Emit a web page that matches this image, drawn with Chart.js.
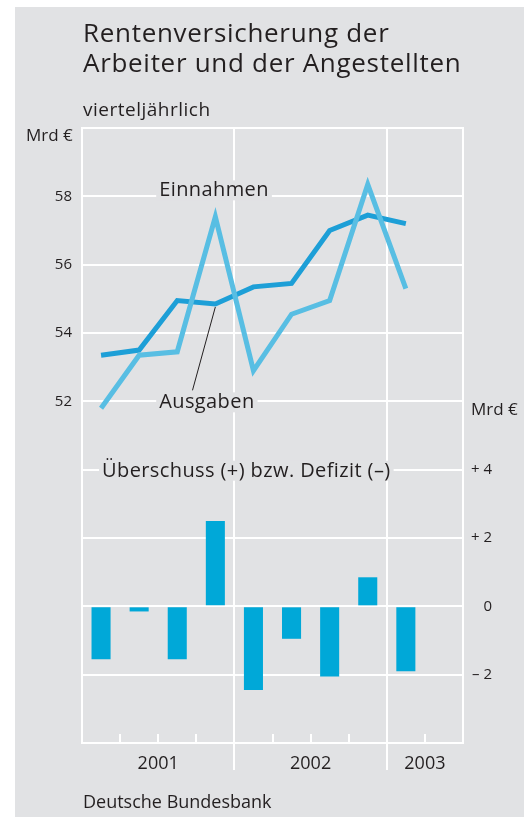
<!DOCTYPE html>
<html lang="de">
<head>
<meta charset="utf-8">
<title>Rentenversicherung der Arbeiter und der Angestellten</title>
<script src="https://cdn.jsdelivr.net/npm/chart.js@4.4.1/dist/chart.umd.min.js"></script>
<style>
  html, body { margin: 0; padding: 0; background: #fff; }
  body { width: 524px; height: 817px; position: relative; overflow: hidden;
         font-family: "Open Sans", sans-serif; color: #231f20; }
  #bg { position: absolute; left: 15px; top: 7px; right: 0; bottom: 0; background: #e1e2e4; }
  #chart { position: absolute; left: 0; top: 0; }
  .txt { position: absolute; white-space: nowrap; }
  #title { left: 83px; top: 17px; font-size: 26px; line-height: 30px; letter-spacing: 0.7px; }
  #sub { left: 83px; top: 98px; font-size: 19px; line-height: 23px; letter-spacing: 0.5px; }
  #unitL { left: 26px; top: 125px; font-size: 17px; line-height: 20px; }
  #unitR { left: 471px; top: 399px; font-size: 17px; line-height: 20px; }
  #source { left: 83px; top: 791px; font-size: 18px; line-height: 21px; }
</style>
</head>
<body>
<div id="bg"></div>
<canvas id="chart" width="524" height="817"></canvas>
<div class="txt" id="title">Rentenversicherung der<br>Arbeiter und der Angestellten</div>
<div class="txt" id="sub">vierteljährlich</div>
<div class="txt" id="unitL">Mrd €</div>
<div class="txt" id="unitR">Mrd €</div>
<div class="txt" id="source">Deutsche Bundesbank</div>
<script>
// Quartale (letztes Quartal 2003 ohne Werte)
const quarters = ['2001 Q1', '2001 Q2', '2001 Q3', '2001 Q4',
                  '2002 Q1', '2002 Q2', '2002 Q3', '2002 Q4',
                  '2003 Q1', '2003 Q2'];
// Mrd €
const einnahmen = [51.8, 53.35, 53.45, 57.4, 52.9, 54.55, 54.95, 58.35, 55.3];
const ausgaben  = [53.35, 53.5, 54.95, 54.85, 55.35, 55.45, 57.0, 57.45, 57.2];
const saldo     = [-1.55, -0.15, -1.55, 2.5, -2.45, -0.95, -2.05, 0.85, -1.9];

const years = [...new Set(quarters.map(q => q.slice(0, 4)))];
const yearCentres = years.map(y => {
  const idx = quarters.map((q, i) => q.startsWith(y) ? i : -1).filter(i => i >= 0);
  return (idx[0] + idx[idx.length - 1] + 1) / 2;
});

const BG = '#e1e2e4';
const INK = '#231f20';
const WHITE = '#ffffff';
const NONE = 'rgba(0,0,0,0)';
const FONT = '"Open Sans", sans-serif';

function yearChange(i) {
  return i > 0 && i < quarters.length && quarters[i].slice(0, 4) !== quarters[i - 1].slice(0, 4);
}

// Beschriftungen, Quartalsstriche, Jahrestrenner, Hinweislinie
const decor = {
  id: 'decor',
  beforeDatasetsDraw(chart) {
    const { ctx, chartArea, scales } = chart;
    const slot = scales.x2, yL = scales.yL, yR = scales.yR;
    ctx.save();

    ctx.strokeStyle = WHITE;
    ctx.lineWidth = 2;
    for (let i = 1; i < quarters.length; i++) {
      const px = Math.round(slot.getPixelForValue(i));
      ctx.beginPath();
      if (yearChange(i)) {
        // Jahrestrenner bis unter die Achse
        ctx.moveTo(px, chartArea.top);
        ctx.lineTo(px, chartArea.bottom + 27);
      } else {
        ctx.moveTo(px, chartArea.bottom);
        ctx.lineTo(px, chartArea.bottom - 9);
      }
      ctx.stroke();
    }

    const notes = [
      { text: 'Einnahmen', x: slot.getPixelForValue(2) + 1, y: yL.getPixelForValue(58) },
      { text: 'Ausgaben', x: slot.getPixelForValue(2) + 1, y: yL.getPixelForValue(52) + 7 },
      { text: 'Überschuss (+) bzw. Defizit (–)', x: slot.getPixelForValue(0.5) + 1, y: yR.getPixelForValue(4) + 7 }
    ];
    ctx.font = '20px ' + FONT;
    ctx.letterSpacing = '0.4px';
    ctx.textBaseline = 'alphabetic';
    ctx.textAlign = 'left';
    notes.forEach(n => {
      const w = ctx.measureText(n.text).width;
      ctx.fillStyle = BG;
      ctx.fillRect(n.x - 3, n.y - 16, w + 6, 20);
      ctx.fillStyle = INK;
      ctx.fillText(n.text, n.x, n.y);
    });
    ctx.letterSpacing = '0px';

    // Hinweislinie zu den Ausgaben
    ctx.strokeStyle = INK;
    ctx.lineWidth = 1;
    ctx.beginPath();
    ctx.moveTo(slot.getPixelForValue(2.9), yL.getPixelForValue(52) - 11);
    ctx.lineTo(scales.x.getPixelForValue(3), yL.getPixelForValue(ausgaben[3]) + 3);
    ctx.stroke();

    ctx.restore();
  }
};

new Chart(document.getElementById('chart'), {
  type: 'bar',
  data: {
    labels: quarters,
    datasets: [
      {
        type: 'line', label: 'Einnahmen', data: einnahmen, yAxisID: 'yL',
        borderColor: '#58bee3', borderWidth: 5, pointRadius: 0, tension: 0,
        borderJoinStyle: 'miter', fill: false
      },
      {
        type: 'line', label: 'Ausgaben', data: ausgaben, yAxisID: 'yL',
        borderColor: '#1d9fd7', borderWidth: 5, pointRadius: 0, tension: 0,
        borderJoinStyle: 'miter', fill: false
      },
      {
        label: 'Überschuss (+) bzw. Defizit (–)', data: saldo, yAxisID: 'yR',
        backgroundColor: '#00a8d8', barPercentage: 0.5, categoryPercentage: 1.0
      }
    ]
  },
  options: {
    responsive: false,
    animation: false,
    layout: { autoPadding: false, padding: { top: 128, right: 32, bottom: 34, left: 0 } },
    plugins: { legend: { display: false }, tooltip: { enabled: false }, title: { display: false } },
    scales: {
      x: {
        type: 'category',
        offset: true,
        ticks: { display: false },
        grid: { display: false },
        border: { display: true, color: WHITE, width: 2 },
        afterFit: s => { s.height = 0; s.paddingLeft = 0; s.paddingRight = 0; }
      },
      x2: {
        type: 'linear',
        position: 'bottom',
        weight: 1,
        offset: false,
        min: 0,
        max: quarters.length,
        afterBuildTicks: s => { s.ticks = yearCentres.map(v => ({ value: v })); },
        ticks: {
          callback: (v, i) => years[i],
          font: { family: FONT, size: 18 },
          color: INK,
          padding: 10,
          maxRotation: 0,
          autoSkip: false
        },
        grid: { display: false, drawTicks: false, offset: false },
        border: { display: false },
        afterFit: s => { s.height = 40; s.paddingLeft = 0; s.paddingRight = 0; }
      },
      yL: {
        type: 'linear',
        position: 'left',
        min: 42,
        max: 60,
        ticks: {
          stepSize: 2,
          padding: 10,
          font: { family: FONT, size: 15 },
          color: INK,
          callback: v => (v >= 52 && v <= 58) ? String(v) : ''
        },
        grid: {
          drawTicks: false,
          lineWidth: 2,
          color: ctx => (ctx.tick && ctx.tick.value >= 52) ? WHITE : NONE
        },
        border: { display: true, color: WHITE, width: 2 },
        afterFit: s => { s.width = 82; s.paddingTop = 0; s.paddingBottom = 0; }
      },
      yR: {
        type: 'linear',
        position: 'right',
        min: -4,
        max: 14,
        ticks: {
          stepSize: 2,
          padding: 6,
          crossAlign: 'far',
          font: { family: FONT, size: 15 },
          color: INK,
          callback: v => (v > 4 || v < -2) ? '' : (v > 0 ? '+ ' + v : (v < 0 ? '– ' + (-v) : '0'))
        },
        grid: {
          drawTicks: false,
          lineWidth: 2,
          color: ctx => (ctx.tick && ctx.tick.value <= 4) ? WHITE : NONE
        },
        border: { display: true, color: WHITE, width: 2 },
        afterFit: s => { s.width = 29; s.paddingTop = 0; s.paddingBottom = 0; }
      }
    }
  },
  plugins: [decor]
});
</script>
</body>
</html>
